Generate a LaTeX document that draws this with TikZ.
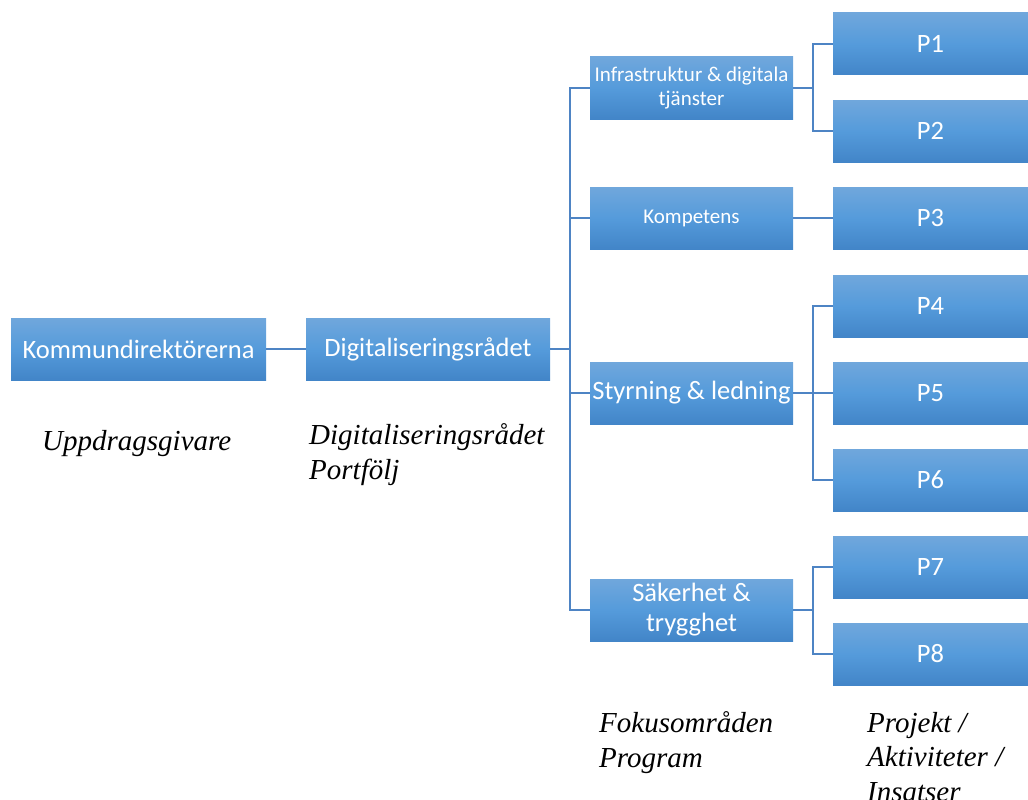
\documentclass[tikz,border=0pt]{standalone}
\usepackage{fontspec}
\setmainfont{Liberation Serif}
\newfontfamily\boxfont{Carlito}
\usetikzlibrary{positioning}
\definecolor{boxtop}{HTML}{70A7DC}
\definecolor{boxmid}{HTML}{559BDB}
\definecolor{boxbot}{HTML}{4285C8}
\definecolor{linkblue}{HTML}{4E84C4}

\begin{document}
\begin{tikzpicture}[x=1pt,y=-1pt,
    box/.style={rectangle, inner sep=0pt, minimum height=62pt,
        top color=boxtop, bottom color=boxbot, middle color=boxmid,
        text=white, align=center, font=\boxfont\fontsize{26.5}{30}\selectfont},
    smallbox/.style={box, font=\boxfont\fontsize{21}{24}\selectfont},
    link/.style={draw=linkblue, line width=1.6pt},
    caption/.style={inner sep=0pt, anchor=base west, align=left,
        font=\itshape\fontsize{29}{34.5}\selectfont}]
    \useasboundingbox (0,0) rectangle (1028,800);

    % Top levels
    \node[box, minimum width=255pt] (kom) at (138.5,349) {Kommundirektörerna};
    \node[box, minimum width=244pt] (dig) at (428,349) {Digitaliseringsrådet};

    % Focus areas
    \node[smallbox, minimum width=203pt] (infra) at (691.5,88) {Infrastruktur \& digitala\\tjänster};
    \node[smallbox, minimum width=203pt] (komp) at (691.5,218) {Kompetens};
    \node[box, minimum width=203pt] (styr) at (691.5,393) {Styrning \& ledning};
    \node[box, minimum width=203pt] (sak) at (691.5,610) {Säkerhet \&\\trygghet};

    % Projects
    \foreach \n/\y in {1/44,2/131,3/218,4/306,5/393,6/480,7/567,8/654}
        \node[box, minimum width=195pt] (p\n) at (930.5,\y) {P\n};

    % Tree lines
    \draw[link] (kom) -- (dig);
    \foreach \f in {infra,komp,styr,sak}
        \draw[link] (dig.east) -- ++(20,0) |- (\f.west);
    \foreach \p in {1,2}
        \draw[link] (infra.east) -- ++(20,0) |- (p\p.west);
    \draw[link] (komp) -- (p3);
    \foreach \p in {4,5,6}
        \draw[link] (styr.east) -- ++(20,0) |- (p\p.west);
    \foreach \p in {7,8}
        \draw[link] (sak.east) -- ++(20,0) |- (p\p.west);

    % Level captions (base = last line)
    \node[caption] (capkom) at (42,450) {Uppdragsgivare};
    \node[caption] (capdig) at (309,479) {Digitaliseringsrådet\\Portfölj};
    \node[caption] (capfok) at (599,767) {Fokusområden\\Program};
    \node[caption] (capproj) at (867,801) {Projekt /\\Aktiviteter /\\Insatser};
\end{tikzpicture}
\end{document}
